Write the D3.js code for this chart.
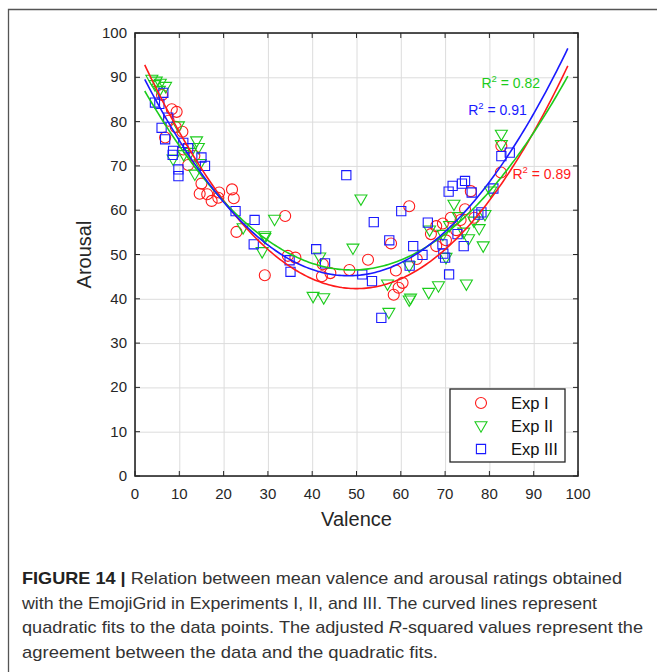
<!DOCTYPE html>
<html>
<head>
<meta charset="utf-8">
<script src="https://cdn.jsdelivr.net/npm/d3@7"></script>
<style>
  body { margin: 0; background: #fff; }
  svg { display: block; font-family: 'Liberation Sans', Arial, sans-serif; }
</style>
</head>
<body>
<svg id="chart" width="657" height="672"></svg>
<script>
// Mean valence / arousal per emoji
const expI = [
  [6.1, 86], [8.3, 82.8], [9.4, 82.2], [7.6, 80.2], [10.7, 77.7], [6.8, 76.4], [9.2, 78.8],
  [10.9, 73.7], [12, 70.2], [13.4, 72.3], [15, 66], [14.6, 63.7], [16.3, 63.6], [17.3, 62.1],
  [18.8, 62.8], [19, 64], [21.9, 64.7], [22.3, 62.7], [22.9, 55.1], [33.9, 58.7], [29.3, 45.3],
  [34.5, 49.7], [36.2, 49.3], [42.4, 47.8], [42.2, 45.1], [44.1, 45.8], [48.4, 46.5], [52.6, 48.8],
  [57.8, 52.5], [58.9, 46.4], [60.4, 43.6], [59.5, 42.5], [58.4, 40.9], [61.9, 60.9], [63.6, 49],
  [66.8, 54.6], [68, 51.9], [68, 56.4], [71.3, 58.3], [70.2, 53.2], [72.5, 55.5], [73.5, 57.8],
  [74.5, 60.2], [75.8, 64.3], [76.6, 58.3], [82.7, 74.5], [82.6, 68.5], [69.5, 57],
];
const expII = [
  [3.8, 89.5], [4.8, 89.1], [5.7, 88.6], [6.9, 87.9], [4.5, 88.3], [5.5, 87], [9.8, 79],
  [13.9, 75.6], [14.3, 74.1], [8.6, 71.5], [13.5, 68.1], [11, 72.5], [12.5, 73], [31.5, 57.9],
  [29.3, 54.2], [24.4, 56], [28.7, 50.6], [29.3, 53.8], [40.2, 40.5], [42.6, 40.2], [41.7, 49.4],
  [49.2, 51.4], [51, 62.5], [57, 43.3], [57.3, 36.9], [61.9, 39.7], [62.2, 40.1], [66.3, 41.4],
  [68.5, 42.9], [74.8, 43.3], [61.9, 47.4], [70.2, 49.3], [78.6, 51.9], [75.3, 53.5], [74.2, 55],
  [82.7, 77.1], [82.7, 74.8], [80.3, 64.3], [72, 61.3], [77.7, 55.8], [76.5, 57.5], [73, 58.5],
  [71, 56.5], [79, 59], [66.5, 55.5], [69.5, 54.5], [14.7, 70.5],
];
const expIII = [
  [6.4, 86.5], [4.5, 84.3], [5.5, 84], [7.5, 80.9], [6, 78.6], [6.8, 76], [10.9, 75.2],
  [8.6, 73.4], [8.5, 72.5], [15, 71.9], [15.8, 70], [9.8, 69.2], [9.8, 67.7], [12, 74],
  [22.7, 59.8], [27, 57.8], [47.7, 67.9], [26.8, 52.3], [34.9, 48.7], [35.1, 46.1], [40.9, 51.2],
  [42.9, 48], [51.3, 45.5], [53.5, 44], [55.6, 35.7], [57.4, 53.2], [62.8, 51.9], [64.9, 49.9],
  [69.4, 52.3], [70, 49.3], [70.9, 45.5], [74.2, 51.9], [72.8, 54.6], [60.1, 59.8], [53.9, 57.3],
  [66.1, 57.2], [70.8, 64.2], [71.7, 65.5], [73.8, 66], [74.5, 66.6], [76, 64], [80.9, 64.9],
  [82.7, 72.2], [84.6, 73], [77.5, 59], [78.2, 59.5], [69.6, 50.2], [62, 47.5],
];

// quadratic fit coefficients [a, b, c] : y = a x^2 + b x + c
const fitI = [0.0221, -2.21, 97.55];
const fitII = [0.01845, -1.808, 90.8];
const fitIII = [0.02094, -2.0186, 93.85];
const fitRange = [2.2, 98];

const seriesNames = ['Exp I', 'Exp II', 'Exp III'];
const r2Labels = ['0.89', '0.82', '0.91'];
const xTicks = [0, 10, 20, 30, 40, 50, 60, 70, 80, 90, 100];
const yTicks = [0, 10, 20, 30, 40, 50, 60, 70, 80, 90, 100];

const captionLines = [
  [{ t: 'FIGURE 14 |', b: true }, { t: ' Relation between mean valence and arousal ratings obtained' }],
  [{ t: 'with the EmojiGrid in Experiments I, II, and III. The curved lines represent' }],
  [{ t: 'quadratic fits to the data points. The adjusted ' }, { t: 'R', i: true }, { t: '-squared values represent the' }],
  [{ t: 'agreement between the data and the quadratic fits.' }],
];

const config = {
  margin: { left: 135, top: 33, right: 79, bottom: 196 },
  width: 657,
  height: 672,
  axisColor: '#262626',
  gridColor: '#dcdcdc',
  colors: ['#ff1a1a', '#1ccc1c', '#1a1aff'],
  captionWidths: [600, 575, 621, 416],
};

const svg = d3.select('#chart');
const w = config.width - config.margin.left - config.margin.right;
const h = config.height - config.margin.top - config.margin.bottom;

// outer figure frame (runs off the right and bottom edges)
svg.append('path')
  .attr('d', 'M8.5,680 V9.5 H700')
  .attr('fill', 'none')
  .attr('stroke', '#555')
  .attr('stroke-width', 1.3);

const xScale = d3.scaleLinear().domain([0, 100]).range([0, w]);
const yScale = d3.scaleLinear().domain([0, 100]).range([h, 0]);

const chart = svg.append('g')
  .attr('transform', `translate(${config.margin.left},${config.margin.top})`);

// gridlines
chart.append('g')
  .call(d3.axisBottom(xScale).tickValues(xTicks).tickSize(h).tickFormat(''))
  .call((g) => g.select('.domain').remove())
  .call((g) => g.selectAll('line').attr('stroke', config.gridColor));
chart.append('g')
  .call(d3.axisRight(yScale).tickValues(yTicks).tickSize(w).tickFormat(''))
  .call((g) => g.select('.domain').remove())
  .call((g) => g.selectAll('line').attr('stroke', config.gridColor));

// markers
const markerPaths = [
  d3.symbol(d3.symbolCircle, 95)(),
  'M-6,-4.2L6,-4.2L0,6.2Z',
  'M-4.6,-4.6H4.6V4.6H-4.6Z',
];
[expI, expII, expIII].forEach((data, k) => {
  chart.append('g').selectAll('path')
    .data(data)
    .join('path')
    .attr('d', markerPaths[k])
    .attr('transform', (d) => `translate(${xScale(d[0])},${yScale(d[1])})`)
    .attr('fill', 'none')
    .attr('stroke', config.colors[k])
    .attr('stroke-width', 1.1);
});

// quadratic fits
const line = d3.line()
  .x((d) => xScale(d[0]))
  .y((d) => yScale(d[1]));
[fitI, fitII, fitIII].forEach((c, k) => {
  const pts = d3.range(fitRange[0], fitRange[1] + 0.01, 0.5)
    .map((x) => [x, c[0] * x * x + c[1] * x + c[2]]);
  chart.append('path')
    .attr('d', line(pts))
    .attr('fill', 'none')
    .attr('stroke', config.colors[k])
    .attr('stroke-width', 1.6);
});

// R^2 labels
const r2Pos = [[85.2, 67], [78.2, 87.6], [75.2, 81.5]];
r2Labels.forEach((v, k) => {
  const t = chart.append('text')
    .attr('x', xScale(r2Pos[k][0]))
    .attr('y', yScale(r2Pos[k][1]))
    .attr('font-size', 14)
    .attr('fill', config.colors[k]);
  t.append('tspan').text('R');
  t.append('tspan').attr('font-size', 9.5).attr('dy', -6).text('2');
  t.append('tspan').attr('dy', 6).text(` = ${v}`);
});

// axes box with inward ticks on all sides
const tickLen = 5;
const axisG = chart.append('g').attr('stroke', config.axisColor).attr('stroke-width', 1);
xTicks.forEach((t) => {
  axisG.append('line').attr('x1', xScale(t)).attr('x2', xScale(t)).attr('y1', h).attr('y2', h - tickLen);
  axisG.append('line').attr('x1', xScale(t)).attr('x2', xScale(t)).attr('y1', 0).attr('y2', tickLen);
});
yTicks.forEach((t) => {
  axisG.append('line').attr('y1', yScale(t)).attr('y2', yScale(t)).attr('x1', 0).attr('x2', tickLen);
  axisG.append('line').attr('y1', yScale(t)).attr('y2', yScale(t)).attr('x1', w).attr('x2', w - tickLen);
});
chart.append('rect')
  .attr('width', w)
  .attr('height', h)
  .attr('fill', 'none')
  .attr('stroke', config.axisColor)
  .attr('stroke-width', 1.6);

// tick labels
chart.append('g').selectAll('text')
  .data(xTicks)
  .join('text')
  .attr('x', (d) => xScale(d))
  .attr('y', h + 23)
  .attr('text-anchor', 'middle')
  .attr('font-size', 15)
  .attr('fill', config.axisColor)
  .text((d) => d);
chart.append('g').selectAll('text')
  .data(yTicks)
  .join('text')
  .attr('x', -8)
  .attr('y', (d) => yScale(d) + 5)
  .attr('text-anchor', 'end')
  .attr('font-size', 15)
  .attr('fill', config.axisColor)
  .text((d) => d);

// axis titles
chart.append('text')
  .attr('x', w / 2)
  .attr('y', h + 50)
  .attr('text-anchor', 'middle')
  .attr('font-size', 20)
  .attr('fill', config.axisColor)
  .text('Valence');
chart.append('text')
  .attr('transform', `translate(-44,${h / 2}) rotate(-90)`)
  .attr('text-anchor', 'middle')
  .attr('font-size', 20)
  .attr('fill', config.axisColor)
  .text('Arousal');

// legend
const legend = chart.append('g')
  .attr('transform', `translate(${450 - config.margin.left},${389 - config.margin.top})`);
legend.append('rect')
  .attr('width', 115)
  .attr('height', 73)
  .attr('fill', '#fff')
  .attr('stroke', config.axisColor)
  .attr('stroke-width', 1.3);
seriesNames.forEach((name, k) => {
  const y = 14 + k * 23;
  legend.append('path')
    .attr('d', markerPaths[k])
    .attr('transform', `translate(31,${y})`)
    .attr('fill', 'none')
    .attr('stroke', config.colors[k])
    .attr('stroke-width', 1.1);
  legend.append('text')
    .attr('x', 61)
    .attr('y', y + 6)
    .attr('font-size', 16.5)
    .attr('fill', '#111')
    .text(name);
});

// caption
const caption = svg.append('g').attr('fill', '#333');
captionLines.forEach((parts, i) => {
  const t = caption.append('text')
    .attr('x', 22)
    .attr('y', 584 + i * 24.5)
    .attr('font-size', 17)
    .attr('textLength', config.captionWidths[i])
    .attr('lengthAdjust', 'spacingAndGlyphs');
  parts.forEach((p) => {
    t.append('tspan')
      .attr('font-weight', p.b ? 'bold' : null)
      .attr('font-style', p.i ? 'italic' : null)
      .attr('fill', p.b ? '#222' : null)
      .text(p.t);
  });
});
</script>
</body>
</html>
